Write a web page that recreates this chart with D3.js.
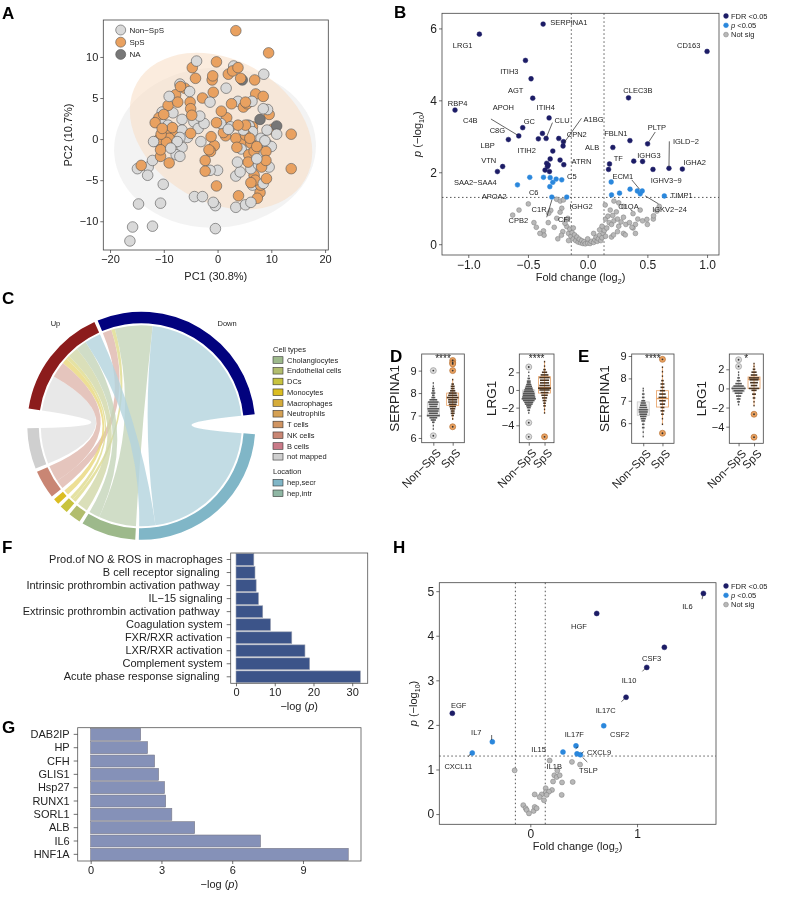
<!DOCTYPE html>
<html><head><meta charset="utf-8">
<script src="https://cdn.jsdelivr.net/npm/d3@7"></script>
<style>
body{margin:0;background:#fff;}
svg{will-change:transform;}
text{white-space:pre;}
</style></head><body>
<svg id="fig" width="787" height="899"></svg>
<script>
// ---------- data ----------
// A: PCA scores (PC1, PC2)
const pcaNonSps = [[-3.9,9.5],[3.0,8.9],[8.6,7.9],[-7.0,6.7],[-5.2,5.8],[1.6,6.2],[-1.4,4.5],[-9.0,5.2],[-10.3,3.3],[-11.2,2.2],[-10.1,1.8],[-6.6,2.4],[-3.3,2.8],[-4.4,2.1],[-3.6,1.3],[-6.6,1.1],[-7.0,0.2],[-3.1,-0.3],[-6.6,-1.0],[-7.7,-1.9],[-7.0,-2.1],[-12.1,-2.6],[-12.9,-3.4],[-13.0,-4.4],[-14.9,-3.6],[-10.1,-5.5],[-14.7,-7.9],[-10.6,-7.8],[-15.8,-10.7],[-12.1,-10.6],[-16.3,-12.4],[-0.4,-10.9],[-4.3,-7.0],[-2.8,-7.0],[-0.8,-7.7],[-0.4,-8.1],[3.4,-8.3],[5.2,-8.0],[6.2,-7.7],[0.0,-3.8],[-1.4,-3.8],[3.4,-4.5],[3.7,-2.8],[4.2,-4.0],[6.2,-3.6],[6.5,-5.6],[8.5,-5.4],[8.2,-1.9],[7.3,-2.4],[9.6,-3.4],[10.0,-0.9],[9.2,-0.6],[8.1,0.1],[11.0,0.6],[5.9,1.6],[6.5,0.9],[8.5,3.7],[9.3,3.6],[6.4,4.6],[3.8,4.6],[2.4,1.5],[2.0,1.2],[-2.5,1.9],[-9.2,1.7],[-11.9,-0.3],[-11.4,-0.3],[-7.5,-0.3],[-8.7,-1.1],[5.7,1.7],[4.8,1.1],[9.2,1.1],[0.6,1.9],[-8.3,3.2],[-5.6,0.2],[7.6,-3.1],[8.8,-0.2],[4.4,-1.2]];
const pcaSps = [[3.4,13.2],[9.5,10.5],[-0.2,9.4],[-4.7,8.7],[3.8,8.7],[-4.1,7.4],[-0.9,7.7],[-1.0,7.2],[2.0,7.9],[2.8,8.3],[4.3,7.4],[6.9,7.2],[-6.9,6.4],[-0.8,5.7],[-2.8,5.0],[-7.4,4.5],[-5.1,4.5],[-9.2,4.1],[-7.8,5.4],[2.6,4.3],[5.2,4.5],[4.8,3.9],[7.1,5.5],[8.5,5.2],[0.7,3.4],[-5.0,3.7],[-4.8,2.9],[-10.0,3.0],[-8.4,1.4],[-10.9,2.6],[-11.6,2.0],[-10.5,0.6],[-11.0,-0.1],[-9.0,0.1],[-7.8,0.5],[-5.0,0.7],[-0.2,2.0],[1.7,2.6],[3.8,1.7],[5.2,1.7],[1.1,0.8],[-1.2,0.3],[-0.6,-0.8],[-1.6,-1.3],[3.4,0.1],[3.6,-1.0],[5.2,0.5],[4.5,-0.5],[6.2,-0.5],[6.0,0.1],[6.8,-1.5],[7.3,-0.9],[8.8,-0.4],[9.0,-1.5],[9.6,3.0],[10.2,1.2],[13.7,0.6],[13.7,-3.6],[5.8,-1.9],[5.7,-2.8],[7.7,-2.6],[9.0,-2.6],[8.2,-3.4],[9.1,-4.8],[6.8,-4.4],[6.2,-5.3],[-2.3,-2.6],[-2.3,-3.9],[-0.2,-5.7],[3.9,-6.9],[7.4,-7.2],[7.9,-6.5],[-9.0,-2.9],[-10.6,-2.1],[-10.6,-1.3],[-14.2,-3.2],[-9.5,-0.4],[-9.7,0.7],[-10.3,1.3],[-6.1,6.2],[5.5,4.3],[6.5,1.5],[1.5,0.4],[-1.3,-1.5],[7.0,-5.0],[8.0,-5.6]];
const pcaNA = [[7.9,2.4],[11.0,1.6],[4.6,7.2]];

// B: protein volcano (log2 fold change, -log10 p)
const bFdr = [[-0.373,6.12],[-0.907,5.84],[1.0,5.36],[-0.521,5.11],[-0.474,4.60],[-0.46,4.06],[0.342,4.07],[-1.111,3.73],[-0.323,3.51],[-0.379,3.08],[-0.544,3.24],[-0.577,3.01],[-0.413,2.93],[-0.348,2.94],[-0.664,2.91],[-0.242,2.94],[-0.203,2.85],[-0.206,2.73],[-0.292,2.59],[-0.314,2.37],[-0.231,2.34],[-0.343,2.25],[-0.337,2.16],[-0.357,2.06],[-0.33,2.2],[-0.2,2.21],[-0.712,2.16],[-0.756,2.02],[0.211,2.69],[0.354,2.88],[0.502,2.79],[0.183,2.23],[0.175,2.08],[0.386,2.31],[0.46,2.30],[0.547,2.08],[0.681,2.11],[0.793,2.09],[-0.32,2.02]];
const bP = [[-0.588,1.65],[-0.485,1.86],[-0.37,1.86],[-0.314,1.85],[-0.264,1.81],[-0.292,1.72],[-0.217,1.79],[-0.317,1.60],[-0.3,1.31],[-0.175,1.31],[0.197,1.73],[0.2,1.37],[0.267,1.42],[0.355,1.53],[0.416,1.48],[0.457,1.48],[0.44,1.40],[0.642,1.34]];
const bNotSig = [[-0.575,0.95],[-0.628,0.81],[-0.497,1.12],[-0.43,0.47],[-0.37,0.37],[-0.365,0.25],[-0.28,0.47],[-0.26,1.25],[-0.23,1.2],[-0.217,1.0],[-0.231,0.89],[-0.203,1.23],[-0.259,0.72],[-0.309,0.94],[-0.326,0.86],[-0.18,0.68],[-0.175,0.49],[-0.208,0.35],[-0.166,0.72],[-0.19,0.58],[-0.16,0.3],[-0.15,0.42],[-0.14,0.22],[-0.13,0.32],[-0.12,0.15],[-0.11,0.26],[-0.1,0.1],[-0.09,0.2],[-0.08,0.06],[-0.07,0.14],[-0.06,0.04],[-0.05,0.1],[-0.04,0.02],[-0.03,0.07],[-0.02,0.01],[0.0,0.03],[0.02,0.02],[0.03,0.08],[0.05,0.05],[0.06,0.12],[0.07,0.2],[0.08,0.08],[0.09,0.15],[0.1,0.25],[0.11,0.1],[0.12,0.18],[0.13,0.3],[0.15,0.22],[0.1,0.4],[0.12,0.5],[0.14,0.38],[0.16,0.45],[0.18,0.6],[0.15,0.7],[0.17,0.78],[0.147,1.09],[0.189,0.95],[0.2,0.55],[0.21,0.8],[0.22,0.65],[0.24,0.9],[0.25,0.7],[0.26,0.5],[0.28,0.62],[0.3,0.75],[0.32,0.55],[0.25,0.35],[0.3,0.3],[0.35,0.6],[0.38,0.45],[0.4,0.55],[0.42,0.7],[0.46,0.65],[0.5,0.55],[0.55,0.7],[0.58,0.92],[0.6,1.05],[0.38,0.85],[0.44,0.95],[0.3,1.05],[0.26,1.15],[0.22,1.2],[-0.45,0.6],[-0.4,0.3],[-0.33,0.6],[-0.25,0.15],[-0.22,0.25],[-0.16,0.1],[0.05,0.3],[0.2,0.2],[0.4,0.3],[-0.12,0.45],[0.0,0.15],[0.371,0.47],[0.496,0.69],[0.552,0.79],[0.217,0.26],[0.315,0.26]];
const bLabels = [["SERPINA1",-0.158,6.157],["LRG1",-1.047,5.537],["CD163",0.846,5.537],["ITIH3",-0.656,4.815],["AGT",-0.603,4.287],["CLEC3B",0.421,4.269],["RBP4",-1.089,3.917],["APOH",-0.706,3.806],["ITIH4",-0.351,3.806],["C4B",-0.983,3.454],["GC",-0.488,3.407],["CLU",-0.214,3.454],["A1BG",0.049,3.481],["PLTP",0.58,3.25],["C8G",-0.756,3.176],["CPN2",-0.091,3.065],["FBLN1",0.236,3.083],["IGLD−2",0.823,2.861],["LBP",-0.838,2.759],["ITIH2",-0.51,2.602],["ALB",0.038,2.694],["IGHG3",0.513,2.481],["TF",0.256,2.389],["ATRN",-0.052,2.296],["VTN",-0.829,2.343],["IGHA2",0.896,2.269],["C5",-0.133,1.898],["ECM1",0.295,1.898],["IGHV3−9",0.658,1.769],["SAA2−SAA4",-0.941,1.713],["C6",-0.452,1.435],["APOA2",-0.782,1.324],["TIMP1",0.787,1.37],["C1R",-0.407,0.981],["IGHG2",-0.055,1.065],["C1QA",0.342,1.065],["IGKV2−24",0.686,0.972],["CPB2",-0.58,0.657],["CFI",-0.197,0.704]];
const bLeaders = [[-0.81,3.481,-0.589,3.037],[-0.052,3.5,-0.197,2.824],[-0.295,3.38,-0.343,2.99],[0.566,3.12,0.513,2.85],[0.684,2.86,0.681,2.16],[0.37,1.787,0.435,1.528],[0.482,1.343,0.594,1.12],[-0.3,1.231,-0.343,0.75]];

// C: chord diagram, direction -> cell type / location (protein counts)
const chordFlows = [["Down","NK cells",5],["Down","DCs",2],["Down","Cholangiocytes",21],["Down","hep,secr",75],
  ["Up","not mapped",20],["Up","NK cells",9],["Up","Monocytes",3],["Up","DCs",2],["Up","Endothelial cells",6],["Up","Cholangiocytes",6],["Up","hep,secr",9]];
const chordSectors = ["Down","hep,secr","Cholangiocytes","Endothelial cells","DCs","Monocytes","NK cells","not mapped","Up"];
const cellTypes = ["Cholangiocytes","Endothelial cells","DCs","Monocytes","Macrophages","Neutrophils","T cells","NK cells","B cells","not mapped"];
const locations = ["hep,secr","hep,intr"];

// D/E: expression by group, binned dot counts [value, count], box [min,q1,med,q3,max], outliers
const groups = ["Non-SpS","SpS"];
const dSerpina = {
  "Non-SpS": {bins:[[6.4,1],[6.55,1],[6.7,2],[6.8,4],[6.9,6],[7.0,10],[7.1,7],[7.2,8],[7.3,9],[7.4,6],[7.5,7],[7.6,8],[7.7,6],[7.8,3],[7.9,2],[8.0,3],[8.1,2],[8.2,2],[8.3,1],[8.45,1]], box:[6.45,6.95,7.2,7.6,8.45], out:[9.0,6.1]},
  "SpS": {bins:[[6.85,1],[7.0,2],[7.1,3],[7.2,3],[7.3,4],[7.4,5],[7.5,6],[7.6,7],[7.7,7],[7.8,9],[7.9,7],[8.0,6],[8.1,4],[8.2,3],[8.3,3],[8.4,2],[8.6,1]], box:[6.8,7.45,7.8,8.0,8.6], out:[9.45,9.35,9.3,9.0,6.5]}};
const dLrg1 = {
  "Non-SpS": {bins:[[-2.6,1],[-2.3,2],[-2.0,3],[-1.8,4],[-1.6,6],[-1.4,7],[-1.2,9],[-1.0,11],[-0.8,10],[-0.6,9],[-0.4,9],[-0.2,8],[0.0,7],[0.2,6],[0.4,5],[0.6,4],[0.8,3],[1.0,3],[1.3,2],[1.6,1],[2.0,1]], box:[-2.7,-1.1,-0.6,0.0,1.4], out:[2.6,-3.7,-5.3]},
  "SpS": {bins:[[-2.6,1],[-2.2,1],[-1.8,2],[-1.5,2],[-1.2,3],[-0.9,4],[-0.6,5],[-0.3,6],[0.0,8],[0.2,10],[0.5,8],[0.8,7],[1.1,7],[1.4,8],[1.7,6],[2.0,4],[2.3,2],[2.7,1],[3.2,1]], box:[-2.6,-0.35,0.25,1.5,3.3], out:[-5.3]}};
const eSerpina = {
  "Non-SpS": {bins:[[5.4,1],[5.6,1],[5.8,2],[5.95,2],[6.1,3],[6.2,4],[6.3,5],[6.4,6],[6.5,7],[6.6,7],[6.7,6],[6.8,5],[6.9,4],[7.0,3],[7.15,2],[7.3,2],[7.45,1],[7.55,1]], box:[5.4,6.35,6.6,6.95,7.55], out:[]},
  "SpS": {bins:[[5.95,1],[6.2,1],[6.4,2],[6.55,3],[6.7,3],[6.85,4],[7.0,5],[7.15,6],[7.3,5],[7.45,4],[7.6,3],[7.75,3],[7.9,2],[8.1,1],[8.3,1],[8.5,1]], box:[5.95,6.72,7.1,7.45,8.5], out:[8.85,5.55]}};
const eLrg1 = {
  "Non-SpS": {bins:[[-1.7,1],[-1.4,2],[-1.1,3],[-0.8,4],[-0.5,6],[-0.25,8],[0.0,11],[0.25,8],[0.5,5],[0.8,3],[1.1,2],[1.4,1],[1.7,1]], box:[-1.7,-0.35,-0.05,0.2,1.7], out:[3.0,2.3]},
  "SpS": {bins:[[-1.8,1],[-1.4,1],[-1.0,2],[-0.6,3],[-0.2,4],[0.0,8],[0.3,5],[0.6,6],[0.9,7],[1.1,8],[1.4,5],[1.7,4],[2.0,2],[2.3,1],[2.6,1]], box:[-1.8,0.0,0.95,1.2,2.6], out:[-2.7,-5.1]}};

// F: canonical pathways
const pathways = ["Prod.of NO & ROS in macrophages","B cell receptor signaling ","Intrinsic prothrombin activation pathway ","IL−15 signaling","Extrinsic prothrombin activation pathway ","Coagulation system","FXR/RXR activation","LXR/RXR activation","Complement system","Acute phase response signaling "];
const pathwayLogP = [4.6,4.9,5.2,5.8,6.9,8.9,14.4,17.8,19.0,32.1];
// G: upstream regulators
const regulators = ["DAB2IP","HP","CFH","GLIS1","Hsp27","RUNX1","SORL1","ALB","IL6","HNF1A"];
const regulatorLogP = [2.12,2.41,2.71,2.88,3.13,3.18,3.44,4.41,7.2,10.92];

// H: cytokine volcano
const hFdr = [[1.622,4.95],[0.622,4.50],[1.256,3.74],[1.091,3.29],[0.897,2.62],[-0.731,2.26]];
const hP = [[0.688,1.98],[-0.356,1.62],[0.428,1.53],[0.306,1.39],[-0.544,1.37],[0.4375,1.35],[0.469,1.33]];
const hNotSig = [[-0.147,0.98],[0.181,1.20],[0.39,1.17],[0.466,1.11],[0.253,0.98],[0.225,0.87],[0.247,0.83],[0.275,0.87],[0.297,0.71],[0.213,0.73],[0.397,0.72],[0.294,0.43],[0.144,0.58],[0.144,0.49],[0.203,0.54],[0.175,0.5],[0.106,0.44],[0.153,0.43],[0.128,0.31],[0.041,0.44],[0.0875,0.38],[-0.066,0.20],[-0.044,0.13],[-0.034,0.09],[-0.0125,0.015],[0.031,0.07],[0.041,0.16],[0.059,0.13]];
const hLabels = [["IL6",1.472,4.669],["HGF",0.456,4.219],["CSF3",1.1375,3.494],["IL10",0.925,2.993],["EGF",-0.672,2.432],["IL17C",0.706,2.32],["CSF2",0.8375,1.788],["IL7",-0.506,1.826],["IL17F",0.4125,1.781],["IL15",0.078,1.459],["CXCL9",0.644,1.377],["CXCL11",-0.675,1.062],["IL1B",0.225,1.077],["TSLP",0.544,0.973]];
const hLeaders = [[1.616,4.9,1.609,4.82],[-0.3625,1.773,-0.3625,1.661],[1.05,3.2,1.078,3.27],[0.853,2.52,0.878,2.574],[0.425,1.466,0.447,1.51],[0.534,1.167,0.49,1.27],[-0.58,1.287,-0.5625,1.347],[0.48,1.36,0.5,1.4]];

// ---------- drawing ----------
const FONT = '"Liberation Sans", Arial, Helvetica, sans-serif';
const INK = "#222";
const svg = d3.select("#fig").attr("font-family", FONT);
svg.append("rect").attr("width", 787).attr("height", 899).attr("fill", "#fff");

function styleAxis(sel, fs) {
  sel.attr("font-family", FONT).attr("font-size", fs);
  sel.select(".domain").remove();
  sel.selectAll(".tick line").attr("stroke", "#333").attr("stroke-width", 0.7);
  sel.selectAll(".tick text").attr("fill", INK);
}
function frame(g, x, y) {
  g.append("rect").attr("x", x.range()[0]).attr("y", y.range()[1])
    .attr("width", x.range()[1] - x.range()[0]).attr("height", y.range()[0] - y.range()[1])
    .attr("fill", "none").attr("stroke", "#444").attr("stroke-width", 0.8);
}
function logTitle(g, x, y, base, rotate, fs) {
  const t = g.append("text").attr("text-anchor", "middle").attr("font-size", fs).attr("fill", INK)
    .attr("transform", `translate(${x},${y})` + (rotate ? " rotate(-90)" : ""));
  if (base === "10") {
    t.append("tspan").attr("font-style", "italic").text("p");
    t.append("tspan").text(" (−log");
  } else t.append("tspan").text("Fold change (log");
  t.append("tspan").attr("font-size", fs * 0.65).attr("dy", 3).text(base);
  t.append("tspan").attr("dy", -3).text(")");
}

// panel letters
[["A",2,19],["B",394,18],["C",2,304],["D",390,362],["E",578,362],["F",2,553],["G",2,733],["H",393,553]]
  .forEach(([l, x, y]) => svg.append("text").attr("x", x).attr("y", y).attr("font-size", 17)
    .attr("font-weight", "bold").text(l));

// ===== A =====
{
  const g = svg.append("g");
  const x = d3.scaleLinear().domain([-21.25, 20.6]).range([103.3, 328.3]);
  const y = d3.scaleLinear().domain([-13.5, 14.5]).range([250, 20]);
  const ell = [{c:[-0.47,-1.03], rx:101, ry:80, a:-3, fill:"#eeeeee", op:0.7},
               {c:[0.65,0.97], rx:97, ry:71, a:30, fill:"#f7dcc2", op:0.55}];
  ell.forEach(e => g.append("ellipse").attr("rx", e.rx).attr("ry", e.ry)
    .attr("transform", `translate(${x(e.c[0])},${y(e.c[1])}) rotate(${e.a})`)
    .attr("fill", e.fill).attr("fill-opacity", e.op));
  const grp = [[pcaNonSps, "#d9d9d9"], [pcaSps, "#e9a160"], [pcaNA, "#777"]];
  const pts = [];
  grp.forEach(([arr, col]) => arr.forEach(d => pts.push({d, col})));
  pts.sort((a, b) => (a.d[0] * 7 + a.d[1] * 13) % 5 - (b.d[0] * 7 + b.d[1] * 13) % 5);
  g.selectAll(".pa").data(pts).join("circle").attr("cx", p => x(p.d[0])).attr("cy", p => y(p.d[1]))
    .attr("r", 5.3).attr("fill", p => p.col).attr("stroke", "#555").attr("stroke-width", 0.6);
  frame(g, x, y);
  styleAxis(g.append("g").attr("transform", "translate(0,250)")
    .call(d3.axisBottom(x).tickValues([-20,-10,0,10,20]).tickSize(3).tickPadding(2)), 11);
  styleAxis(g.append("g").attr("transform", "translate(103.3,0)")
    .call(d3.axisLeft(y).tickValues([-10,-5,0,5,10]).tickSize(3).tickPadding(2)), 11);
  g.append("text").attr("x", 215.8).attr("y", 280).attr("text-anchor", "middle").attr("font-size", 11).attr("fill", INK).text("PC1 (30.8%)");
  g.append("text").attr("transform", "translate(72,135) rotate(-90)").attr("text-anchor", "middle").attr("font-size", 11).attr("fill", INK).text("PC2 (10.7%)");
  [["Non−SpS","#d9d9d9"],["SpS","#e9a160"],["NA","#777"]].forEach(([t, c], i) => {
    g.append("circle").attr("cx", 120.7).attr("cy", 30 + i * 12.2).attr("r", 5).attr("fill", c).attr("stroke", "#555").attr("stroke-width", 0.6);
    g.append("text").attr("x", 129.5).attr("y", 30 + i * 12.2).attr("dy", "0.35em").attr("font-size", 8).attr("fill", INK).text(t);
  });
}

// ===== volcano helper (B, H) =====
function volcano(c) {
  const g = svg.append("g");
  const x = d3.scaleLinear().domain(c.xDomain).range([c.x0, c.x1]);
  const y = d3.scaleLinear().domain(c.yDomain).range([c.y1, c.y0]);
  const dash = "1.5,2.5";
  [-c.fcCut, c.fcCut].forEach(v => g.append("line").attr("x1", x(v)).attr("x2", x(v)).attr("y1", c.y0).attr("y2", c.y1)
    .attr("stroke", "#444").attr("stroke-width", 0.9).attr("stroke-dasharray", dash));
  g.append("line").attr("x1", c.x0).attr("x2", c.x1).attr("y1", y(c.pCut)).attr("y2", y(c.pCut))
    .attr("stroke", "#444").attr("stroke-width", 0.9).attr("stroke-dasharray", dash);
  const sets = [[c.ns, "#b8b8b8", "#7a7a7a"], [c.p, "#2a87dc", "#2a87dc"], [c.fdr, "#1c1c66", "#1c1c66"]];
  sets.forEach(([arr, f, s]) => g.append("g").selectAll("circle").data(arr).join("circle")
    .attr("cx", d => x(d[0])).attr("cy", d => y(d[1])).attr("r", c.r)
    .attr("fill", f).attr("stroke", s).attr("stroke-width", 0.5));
  g.append("g").selectAll("line").data(c.leaders).join("line").attr("x1", d => x(d[0])).attr("y1", d => y(d[1]))
    .attr("x2", d => x(d[2])).attr("y2", d => y(d[3])).attr("stroke", "#222").attr("stroke-width", 0.7);
  g.append("g").selectAll("text").data(c.labels).join("text").attr("x", d => x(d[1])).attr("y", d => y(d[2]))
    .attr("dy", "0.35em").attr("text-anchor", "middle").attr("font-size", 7.5).attr("fill", INK).text(d => d[0]);
  frame(g, x, y);
  styleAxis(g.append("g").attr("transform", `translate(0,${c.y1})`)
    .call(d3.axisBottom(x).tickValues(c.xTicks).tickFormat(c.xFmt).tickSize(3).tickPadding(2)), c.fs);
  styleAxis(g.append("g").attr("transform", `translate(${c.x0},0)`)
    .call(d3.axisLeft(y).tickValues(c.yTicks).tickFormat(d3.format("d")).tickSize(3).tickPadding(2)), c.fs);
  logTitle(g, (c.x0 + c.x1) / 2, c.xTitleY, "2", false, 11);
  logTitle(g, c.yTitleX, (c.y0 + c.y1) / 2, "10", true, 11);
  const leg = [["FDR <0.05", "#1c1c66", "#1c1c66"], ["p <0.05", "#2a87dc", "#2a87dc"], ["Not sig", "#b8b8b8", "#7a7a7a"]];
  leg.forEach(([t, f, s], i) => {
    const yy = c.legY + i * 9.3;
    g.append("circle").attr("cx", c.legX).attr("cy", yy).attr("r", 2.4).attr("fill", f).attr("stroke", s).attr("stroke-width", 0.5);
    const tx = g.append("text").attr("x", c.legX + 5).attr("y", yy).attr("dy", "0.35em").attr("font-size", 7.5).attr("fill", INK);
    if (t.startsWith("p ")) { tx.append("tspan").attr("font-style", "italic").text("p"); tx.append("tspan").text(" <0.05"); }
    else tx.text(t);
  });
}

// ===== B =====
volcano({x0:442, x1:719, y0:13.3, y1:255, xDomain:[-1.22,1.10], yDomain:[-0.3,6.42],
  xTicks:[-1,-0.5,0,0.5,1], xFmt:d3.format(".1f"), yTicks:[0,2,4,6], fcCut:0.137, pCut:1.301,
  ns:bNotSig, p:bP, fdr:bFdr, labels:bLabels, leaders:bLeaders, r:2.4, fs:12,
  xTitleY:281, yTitleX:421, legX:726, legY:16});

// ===== H =====
volcano({x0:439.3, x1:716, y0:582.7, y1:824.3, xDomain:[-0.853,1.74], yDomain:[-0.23,5.19],
  xTicks:[0,1], xFmt:d3.format("d"), yTicks:[0,1,2,3,4,5], fcCut:0.14, pCut:1.301,
  ns:hNotSig, p:hP, fdr:hFdr, labels:hLabels, leaders:hLeaders, r:2.5, fs:12,
  xTitleY:850, yTitleX:417, legX:726, legY:586});

// ===== C: chord =====
{
  const cx = 141.3, cy = 425.8;
  const g = svg.append("g").attr("transform", `translate(${cx},${cy})`);
  const colors = {"Up":"#8c1c1c","Down":"#02027e","hep,secr":"#80b6c7","hep,intr":"#8fb7a4","Cholangiocytes":"#9db98b",
    "Endothelial cells":"#b2bd6e","DCs":"#c8c33f","Monocytes":"#dbbd22","Macrophages":"#d5ac3b","Neutrophils":"#d5a154",
    "T cells":"#d09462","NK cells":"#c98674","B cells":"#c97a88","not mapped":"#cfcfcf"};
  const totals = {};
  chordFlows.forEach(([s, t, v]) => { totals[s] = (totals[s] || 0) + v; totals[t] = (totals[t] || 0) + v; });
  const bigGapAfter = new Set(["Down", "not mapped"]);
  const gapDeg = s => bigGapAfter.has(s) ? 10 : 1.8;
  const gapSum = d3.sum(chordSectors, gapDeg);
  const unit = (360 - gapSum) / d3.sum(chordSectors, s => totals[s]) * Math.PI / 180;
  const sec = {};
  let a = -22.5 * Math.PI / 180;
  chordSectors.forEach(s => {
    sec[s] = {start: a, end: a + totals[s] * unit, cur: a};
    a = sec[s].end + gapDeg(s) * Math.PI / 180;
  });
  // target positions: flows from Down first, then Up
  const tgtOrder = [...chordFlows].sort((p, q) => (p[0] === "Down" ? 0 : 1) - (q[0] === "Down" ? 0 : 1));
  const tgtPos = new Map();
  tgtOrder.forEach(f => { const s = sec[f[1]]; tgtPos.set(f, [s.cur, s.cur + f[2] * unit]); s.cur += f[2] * unit; });
  const ribbon = d3.ribbon().radius(100.5);
  const ribbons = chordFlows.map(f => {
    const s = sec[f[0]];
    const src = {startAngle: s.cur, endAngle: s.cur + f[2] * unit};
    s.cur += f[2] * unit;
    const tp = tgtPos.get(f);
    return {f, src, tgt: {startAngle: tp[0], endAngle: tp[1]}};
  });
  g.selectAll(".rb").data(ribbons).join("path")
    .attr("d", d => ribbon({source: d.src, target: d.tgt}))
    .attr("fill", d => d3.interpolateRgb(colors[d.f[1]], "#fff")(0.4)).attr("fill-opacity", 0.8);
  const arc = d3.arc().innerRadius(102.5).outerRadius(114);
  g.selectAll(".sec").data(chordSectors).join("path")
    .attr("d", s => arc({startAngle: sec[s].start, endAngle: sec[s].end})).attr("fill", s => colors[s]);
  [["Up", -40], ["Down", 40]].forEach(([t, deg]) => {
    const r = 133.5, th = deg * Math.PI / 180;
    g.append("text").attr("x", r * Math.sin(th)).attr("y", -r * Math.cos(th)).attr("dy", "0.35em")
      .attr("text-anchor", "middle").attr("font-size", 7.5).attr("fill", INK).text(t);
  });
  // legend
  const lg = svg.append("g").attr("font-size", 7.5).attr("fill", INK);
  const row = (t, y, isTitle) => {
    if (!isTitle) lg.append("rect").attr("x", 273).attr("y", y - 3.3).attr("width", 10).attr("height", 6.6)
      .attr("fill", colors[t]).attr("stroke", "#333").attr("stroke-width", 0.6);
    lg.append("text").attr("x", isTitle ? 273 : 287).attr("y", y).attr("dy", "0.35em").text(t);
  };
  row("Cell types", 349, true);
  cellTypes.forEach((t, i) => row(t, 360 + i * 10.75));
  row("Location", 471.7, true);
  locations.forEach((t, i) => row(t, 482.7 + i * 10.6));
}

// ===== D / E mini plots =====
function mini(d, box, gene, stars, ticks) {
  const g = svg.append("g");
  const x = d3.scalePoint().domain(groups).range([box[0], box[1]]).padding(0.6);
  const y = d3.scaleLinear().domain(box[4]).range([box[3], box[2]]);
  groups.forEach(gr => {
    const v = d[gr], cxp = x(gr), sps = gr === "SpS";
    const bc = sps ? "#e8a062" : "#c9c9c9";
    g.append("line").attr("x1", cxp).attr("x2", cxp).attr("y1", y(v.box[0])).attr("y2", y(v.box[4])).attr("stroke", bc).attr("stroke-width", 0.8);
    g.append("rect").attr("x", cxp - 6).attr("width", 12).attr("y", y(v.box[3])).attr("height", y(v.box[1]) - y(v.box[3]))
      .attr("fill", sps ? "none" : "#f2f2f2").attr("stroke", bc).attr("stroke-width", 0.8);
    g.append("line").attr("x1", cxp - 6).attr("x2", cxp + 6).attr("y1", y(v.box[2])).attr("y2", y(v.box[2])).attr("stroke", bc).attr("stroke-width", 1.4);
    g.append("g").selectAll("rect").data(v.bins).join("rect").attr("x", b => cxp - b[1] * 0.65).attr("width", b => b[1] * 1.3)
      .attr("y", b => y(b[0]) - 0.8).attr("height", 1.6).attr("fill", sps ? "#4a3420" : "#555");
    const og = g.append("g");
    og.selectAll("circle.o").data(v.out).join("circle").attr("class", "o").attr("cx", cxp).attr("cy", o => y(o)).attr("r", 3)
      .attr("fill", sps ? "#e9a160" : "#dcdcdc").attr("stroke", sps ? "#b77236" : "#999").attr("stroke-width", 0.7);
    og.selectAll("circle.c").data(v.out).join("circle").attr("class", "c").attr("cx", cxp).attr("cy", o => y(o)).attr("r", 0.9).attr("fill", "#333");
  });
  frame(g, x.copy().range([box[0], box[1]]), y);
  g.append("text").attr("x", (box[0] + box[1]) / 2).attr("y", box[2] + 8).attr("text-anchor", "middle")
    .attr("font-size", 10).attr("fill", INK).text(stars);
  styleAxis(g.append("g").attr("transform", `translate(${box[0]},0)`)
    .call(d3.axisLeft(y).tickValues(ticks).tickFormat(d3.format("d")).tickSize(3).tickPadding(2)), 11);
  const xa = g.append("g").attr("transform", `translate(0,${box[3]})`)
    .call(d3.axisBottom(x).tickSize(3).tickPadding(2).tickFormat(t => t.replace("-", "−")));
  styleAxis(xa, 11.5);
  xa.selectAll(".tick text").attr("text-anchor", "end").attr("dy", "0.3em").attr("transform", "translate(2,5) rotate(-45)");
  g.append("text").attr("transform", `translate(${box[0] - 23},${(box[2] + box[3]) / 2}) rotate(-90)`)
    .attr("text-anchor", "middle").attr("font-size", 13.5).attr("fill", INK).text(gene);
}
mini(dSerpina, [421.7, 464.3, 354, 442.7, [5.79, 9.74]], "SERPINA1", "****", [6,7,8,9]);
mini(dLrg1, [519.3, 554, 354, 442.7, [-5.97, 4.07]], "LRG1", "****", [-4,-2,0,2]);
mini(eSerpina, [631.7, 674, 354, 443.3, [5.1, 9.09]], "SERPINA1", "****", [6,7,8,9]);
mini(eLrg1, [729.3, 763.3, 354, 443.3, [-5.74, 3.6]], "LRG1", "*", [-4,-2,0,2]);

// ===== F / G bar charts =====
function hbars(names, vals, xr, yr, xd, ticks, fill, stroke, labelFs, titleY) {
  const g = svg.append("g");
  const x = d3.scaleLinear().domain(xd).range(xr);
  const y = d3.scaleBand().domain(names).range(yr).paddingInner(0.1).paddingOuter(0.05);
  g.selectAll("rect.bar").data(names).join("rect").attr("class", "bar").attr("x", x(0)).attr("y", n => y(n))
    .attr("width", (n, i) => x(vals[i]) - x(0)).attr("height", y.bandwidth())
    .attr("fill", fill).attr("stroke", stroke).attr("stroke-width", 0.6);
  g.append("rect").attr("x", xr[0]).attr("y", yr[0]).attr("width", xr[1] - xr[0]).attr("height", yr[1] - yr[0])
    .attr("fill", "none").attr("stroke", "#555").attr("stroke-width", 0.8);
  styleAxis(g.append("g").attr("transform", `translate(0,${yr[1]})`)
    .call(d3.axisBottom(x).tickValues(ticks).tickSize(3).tickPadding(2)), 11);
  styleAxis(g.append("g").attr("transform", `translate(${xr[0]},0)`)
    .call(d3.axisLeft(y).tickSize(4).tickPadding(4)), labelFs);
  const t = g.append("text").attr("x", (xr[0] + xr[1]) / 2).attr("y", titleY).attr("text-anchor", "middle").attr("font-size", 11).attr("fill", INK);
  t.append("tspan").text("−log (");
  t.append("tspan").attr("font-style", "italic").text("p");
  t.append("tspan").text(")");
}
hbars(pathways, pathwayLogP, [230.7, 367.7], [553, 683.3], [-1.37, 34.0], [0,10,20,30], "#3c5489", "#9aa0b0", 11, 710);
hbars(regulators, regulatorLogP, [77.7, 361], [727.7, 861], [-0.55, 11.46], [0,3,6,9], "#8591b8", "#7a7a88", 11, 888);
</script></body></html>
